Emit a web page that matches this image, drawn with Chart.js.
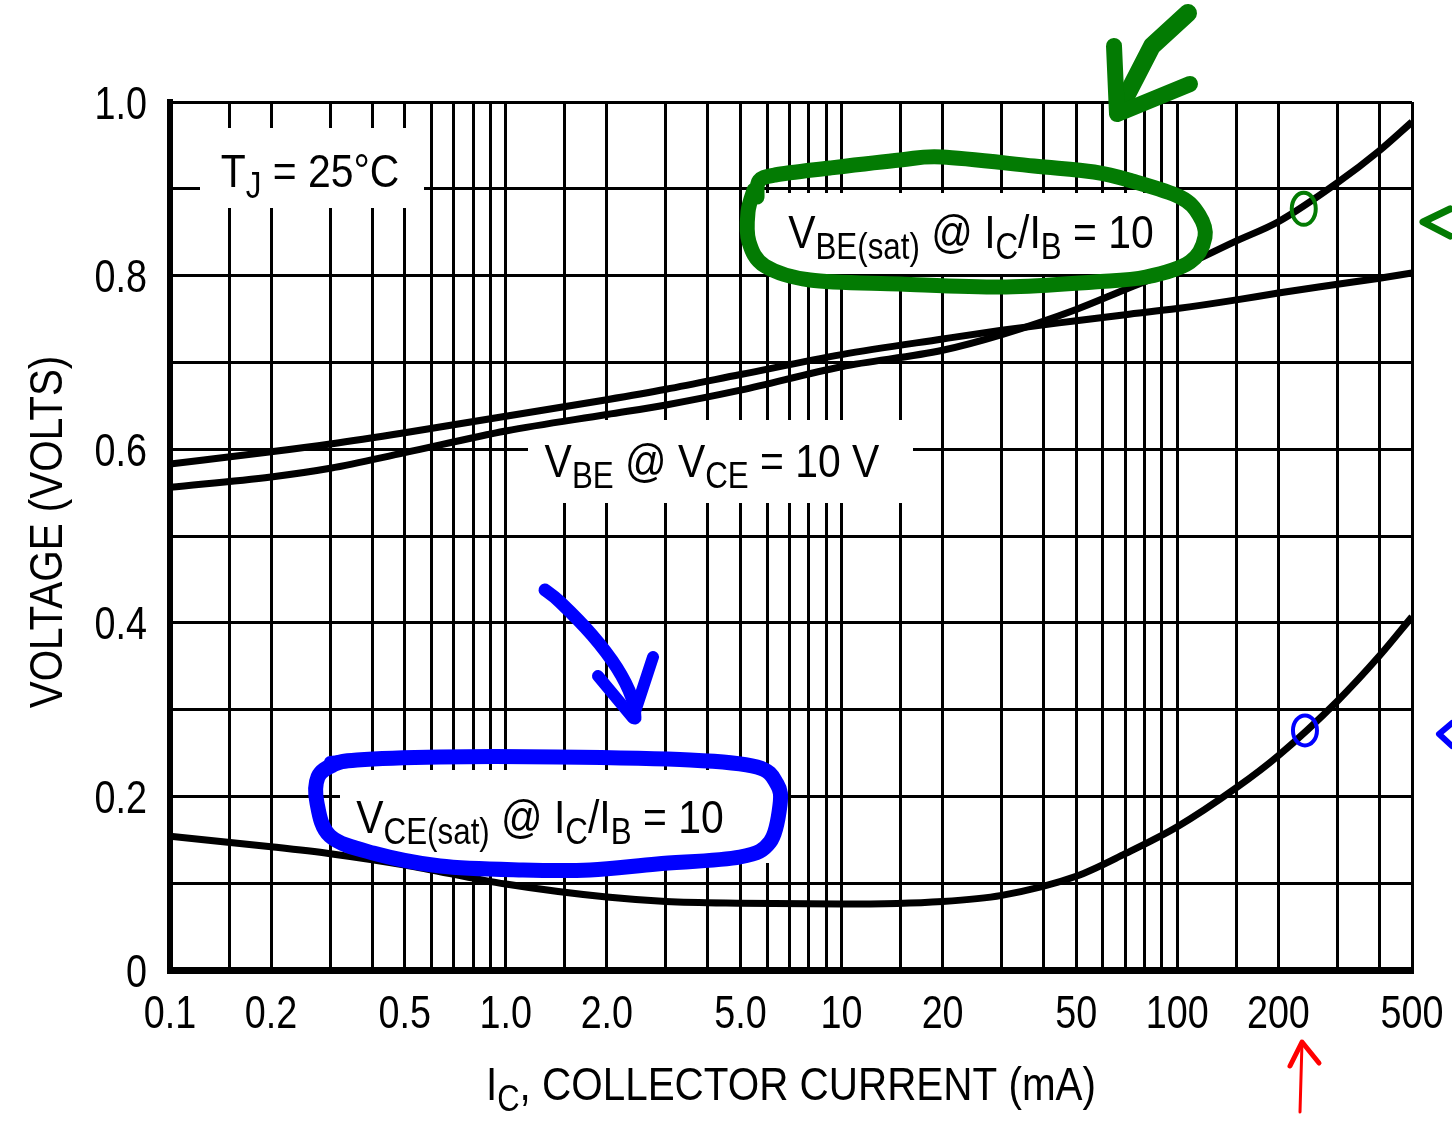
<!DOCTYPE html>
<html><head><meta charset="utf-8">
<script src="https://cdn.jsdelivr.net/npm/chart.js@4.4.0/dist/chart.umd.min.js"></script>
<style>html,body{margin:0;padding:0;background:#fff;overflow:hidden}#wrap{width:1452px;height:1127px}</style>
</head><body><div id="wrap"><canvas id="c" width="1452" height="1127"></canvas></div>
<script>
// ---------------- data ----------------
const currentsMA = [0.1,0.2,0.3,0.5,1,2,3,5,10,20,30,50,70,100,150,200,300,400,500];
const vbeSat    = [0.556,0.568,0.578,0.596,0.621,0.640,0.651,0.668,0.695,0.714,0.732,0.761,0.784,0.808,0.840,0.862,0.907,0.944,0.977];
const vbeOn     = [0.583,0.597,0.606,0.619,0.638,0.657,0.669,0.686,0.709,0.727,0.737,0.748,0.755,0.762,0.772,0.780,0.790,0.797,0.803];
const vceSat    = [0.154,0.142,0.134,0.121,0.099,0.084,0.079,0.077,0.076,0.079,0.086,0.108,0.134,0.165,0.210,0.247,0.310,0.362,0.407];

const xGridValues = [0.1,0.15,0.2,0.3,0.4,0.5,0.6,0.7,0.8,0.9,1,1.5,2,3,4,5,6,7,8,9,10,15,20,30,40,50,60,70,80,90,100,150,200,300,400,500];
const xLabelValues = [0.1,0.2,0.5,1,2,5,10,20,50,100,200,500];
const xLabelTexts  = ['0.1','0.2','0.5','1.0','2.0','5.0','10','20','50','100','200','500'];
const yGridValues = [0,0.1,0.2,0.3,0.4,0.5,0.6,0.7,0.8,0.9,1.0];
const yLabelValues = [0,0.2,0.4,0.6,0.8,1.0];
const yLabelTexts  = ['0','0.2','0.4','0.6','0.8','1.0'];

const yTitle = 'VOLTAGE (VOLTS)';
const xTitleParts = [{t:'I'},{t:'C',sub:true},{t:', COLLECTOR CURRENT (mA)'}];
const seriesNames = ['VBE(sat) @ IC/IB = 10','VBE @ VCE = 10 V','VCE(sat) @ IC/IB = 10'];

// ---------------- styling ----------------
const FAM = '"Liberation Sans",Arial,sans-serif';
const MAIN = '47px ' + FAM, SUB = '36px ' + FAM, SUBDY = 11;
const TICKFONT = '46px ' + FAM;

function pts(vals){ return currentsMA.map((c,i)=>({x:c,y:vals[i]})); }

function richWidth(ctx, parts){ let w=0; for(const p of parts){ ctx.font = p.sub?SUB:MAIN; w += ctx.measureText(p.t).width; } return w; }
function drawRich(ctx, cx, base, parts, sx){
  const w = richWidth(ctx, parts)*sx;
  ctx.save(); ctx.translate(cx - w/2, base); ctx.scale(sx,1);
  ctx.textAlign='left'; ctx.textBaseline='alphabetic'; ctx.fillStyle='#000';
  let x=0;
  for(const p of parts){ ctx.font = p.sub?SUB:MAIN; ctx.fillText(p.t, x, p.sub?SUBDY:0); x += ctx.measureText(p.t).width; }
  ctx.restore();
}
function drawNarrow(ctx, text, x, y, sx, align, rot){
  ctx.save(); ctx.translate(x,y); if(rot) ctx.rotate(rot); ctx.scale(sx,1);
  ctx.textAlign=align; ctx.textBaseline='alphabetic'; ctx.fillStyle='#000';
  ctx.fillText(text,0,0); ctx.restore();
}
function smooth(ctx, P, closed){
  const n=P.length; ctx.beginPath(); ctx.moveTo(P[0][0],P[0][1]);
  const get=i=> closed ? P[(i+n)%n] : P[Math.max(0,Math.min(n-1,i))];
  const last = closed ? n : n-1;
  for(let i=0;i<last;i++){
    const p0=get(i-1),p1=get(i),p2=get(i+1),p3=get(i+2);
    ctx.bezierCurveTo(p1[0]+(p2[0]-p0[0])/6,p1[1]+(p2[1]-p0[1])/6,p2[0]-(p3[0]-p1[0])/6,p2[1]-(p3[1]-p1[1])/6,p2[0],p2[1]);
  }
  if(closed) ctx.closePath();
}
function poly(ctx, P, w, color){ ctx.beginPath(); ctx.moveTo(P[0][0],P[0][1]); for(let i=1;i<P.length;i++) ctx.lineTo(P[i][0],P[i][1]); ctx.lineWidth=w; ctx.strokeStyle=color; ctx.lineJoin='round'; ctx.lineCap='round'; ctx.stroke(); }

const labelBoxes = [
  {x0:200,y0:128,x1:424,y1:208},
  {x0:528,y0:420,x1:913,y1:503},
  {x0:755,y0:193,x1:1165,y1:274},
  {x0:340,y0:770,x1:782,y1:863}
];
const labels = [
  {cx:310, base:187, parts:[{t:'T'},{t:'J',sub:true},{t:' = 25°C'}]},
  {cx:712, base:477, parts:[{t:'V'},{t:'BE',sub:true},{t:' @ V'},{t:'CE',sub:true},{t:' = 10 V'}]},
  {cx:971, base:248, parts:[{t:'V'},{t:'BE(sat)',sub:true},{t:' @ I'},{t:'C',sub:true},{t:'/I'},{t:'B',sub:true},{t:' = 10'}]},
  {cx:540, base:833, parts:[{t:'V'},{t:'CE(sat)',sub:true},{t:' @ I'},{t:'C',sub:true},{t:'/I'},{t:'B',sub:true},{t:' = 10'}]}
];

const annotPlugin = {
  id:'annot',
  beforeDatasetsDraw(chart){
    const ctx=chart.ctx; ctx.save(); ctx.fillStyle='#fff';
    for(const b of labelBoxes) ctx.fillRect(b.x0,b.y0,b.x1-b.x0,b.y1-b.y0);
    ctx.restore();
  },
  afterDatasetsDraw(chart){
    const ctx=chart.ctx; ctx.save();
    const xs=chart.scales.x, ys=chart.scales.y;
    // tick labels
    ctx.font = TICKFONT;
    xLabelValues.forEach((v,i)=> drawNarrow(ctx, xLabelTexts[i], xs.getPixelForValue(v), 1028, 0.82, 'center'));
    yLabelValues.forEach((v,i)=> drawNarrow(ctx, yLabelTexts[i], 147, ys.getPixelForValue(v)+16.5, 0.82, 'right'));
    // axis titles
    ctx.font = MAIN;
    drawNarrow(ctx, yTitle, 62, (ys.top+ys.bottom)/2 - 4, 0.86, 'center', -Math.PI/2);
    drawRich(ctx, 791, 1100, xTitleParts, 0.86);
    // in-plot labels
    for(const l of labels) drawRich(ctx,l.cx,l.base,l.parts,0.87);

    const G='#037b03', B='#0000ff', R='#ff0000';
    // green loop
    smooth(ctx, [[757,197],[759,181],[775,175],[830,168],[900,160],[942,157],[1034,166],[1094,172],[1132,181],[1180,197],[1199,215],[1205,237],[1190,262],[1146,277],[1094,282],[1006,287],[900,284],[810,280],[765,266],[749,242],[748,212],[754,190]], false);
    ctx.lineWidth=15; ctx.strokeStyle=G; ctx.lineCap='round'; ctx.lineJoin='round'; ctx.stroke();
    // green arrow top
    poly(ctx, [[1188,13],[1152,46],[1118,112]], 18, G);
    poly(ctx, [[1114,46],[1117,114],[1190,84]], 16, G);
    // green small circle on curve
    ctx.beginPath(); ctx.ellipse(xs.getPixelForValue(238), ys.getPixelForValue(0.877), 12, 16, 0, 0, Math.PI*2);
    ctx.lineWidth=4; ctx.strokeStyle=G; ctx.stroke();
    // green right arrow
    poly(ctx, [[1450,209],[1423,222],[1450,236]], 7, G);
    // blue loop
    smooth(ctx, [[333,765],[357,760],[440,757],[557,757],[690,760],[757,767],[777,784],[780,805],[770,842],[740,857],[657,864],[590,870],[523,870],[440,866],[373,853],[330,836],[317,803],[318,777]], true);
    ctx.lineWidth=15; ctx.strokeStyle=B; ctx.stroke();
    poly(ctx, [[330,762],[352,760]], 12, B);
    // blue arrow
    smooth(ctx, [[545,590],[560,602],[592,635],[617,668],[632,698],[635,718]], false);
    ctx.lineWidth=13; ctx.strokeStyle=B; ctx.lineCap='round'; ctx.stroke();
    poly(ctx, [[598,676],[633,718],[653,657]], 12, B);
    // blue small circle
    ctx.beginPath(); ctx.ellipse(xs.getPixelForValue(240), ys.getPixelForValue(0.276), 12, 15, 0, 0, Math.PI*2);
    ctx.lineWidth=4; ctx.strokeStyle=B; ctx.stroke();
    // blue right arrow
    poly(ctx, [[1452,723],[1439,734],[1452,746]], 6, B);
    // red arrow under axis
    poly(ctx, [[1300,1112],[1302,1042]], 3, R);
    poly(ctx, [[1290,1066],[1302,1042],[1319,1063]], 5, R);
    ctx.restore();
  }
};

new Chart(document.getElementById('c'), {
  type:'line',
  data:{ datasets:[
    {label:seriesNames[0], data:pts(vbeSat)},
    {label:seriesNames[1], data:pts(vbeOn)},
    {label:seriesNames[2], data:pts(vceSat)}
  ].map(d=>Object.assign(d,{borderColor:'#000',borderWidth:7,pointRadius:0,fill:false,cubicInterpolationMode:'monotone'}))},
  options:{
    responsive:false, animation:false, devicePixelRatio:1,
    layout:{padding:{top:102,right:40,left:0,bottom:0}},
    plugins:{legend:{display:false},tooltip:{enabled:false}},
    scales:{
      x:{ type:'logarithmic', min:0.1, max:500,
        afterBuildTicks(s){ s.ticks = xGridValues.map(v=>({value:v})); },
        afterFit(s){ s.height = 157; },
        grid:{color:'#000',lineWidth:3,drawTicks:false},
        border:{display:true,color:'#000',width:7},
        ticks:{display:false,autoSkip:false}
      },
      y:{ type:'linear', min:0, max:1,
        afterBuildTicks(s){ s.ticks = yGridValues.map(v=>({value:v})); },
        afterFit(s){ s.width = 170; },
        grid:{color:'#000',lineWidth:3,drawTicks:false},
        border:{display:true,color:'#000',width:6},
        ticks:{display:false,autoSkip:false}
      }
    }
  },
  plugins:[annotPlugin]
});
</script></body></html>
